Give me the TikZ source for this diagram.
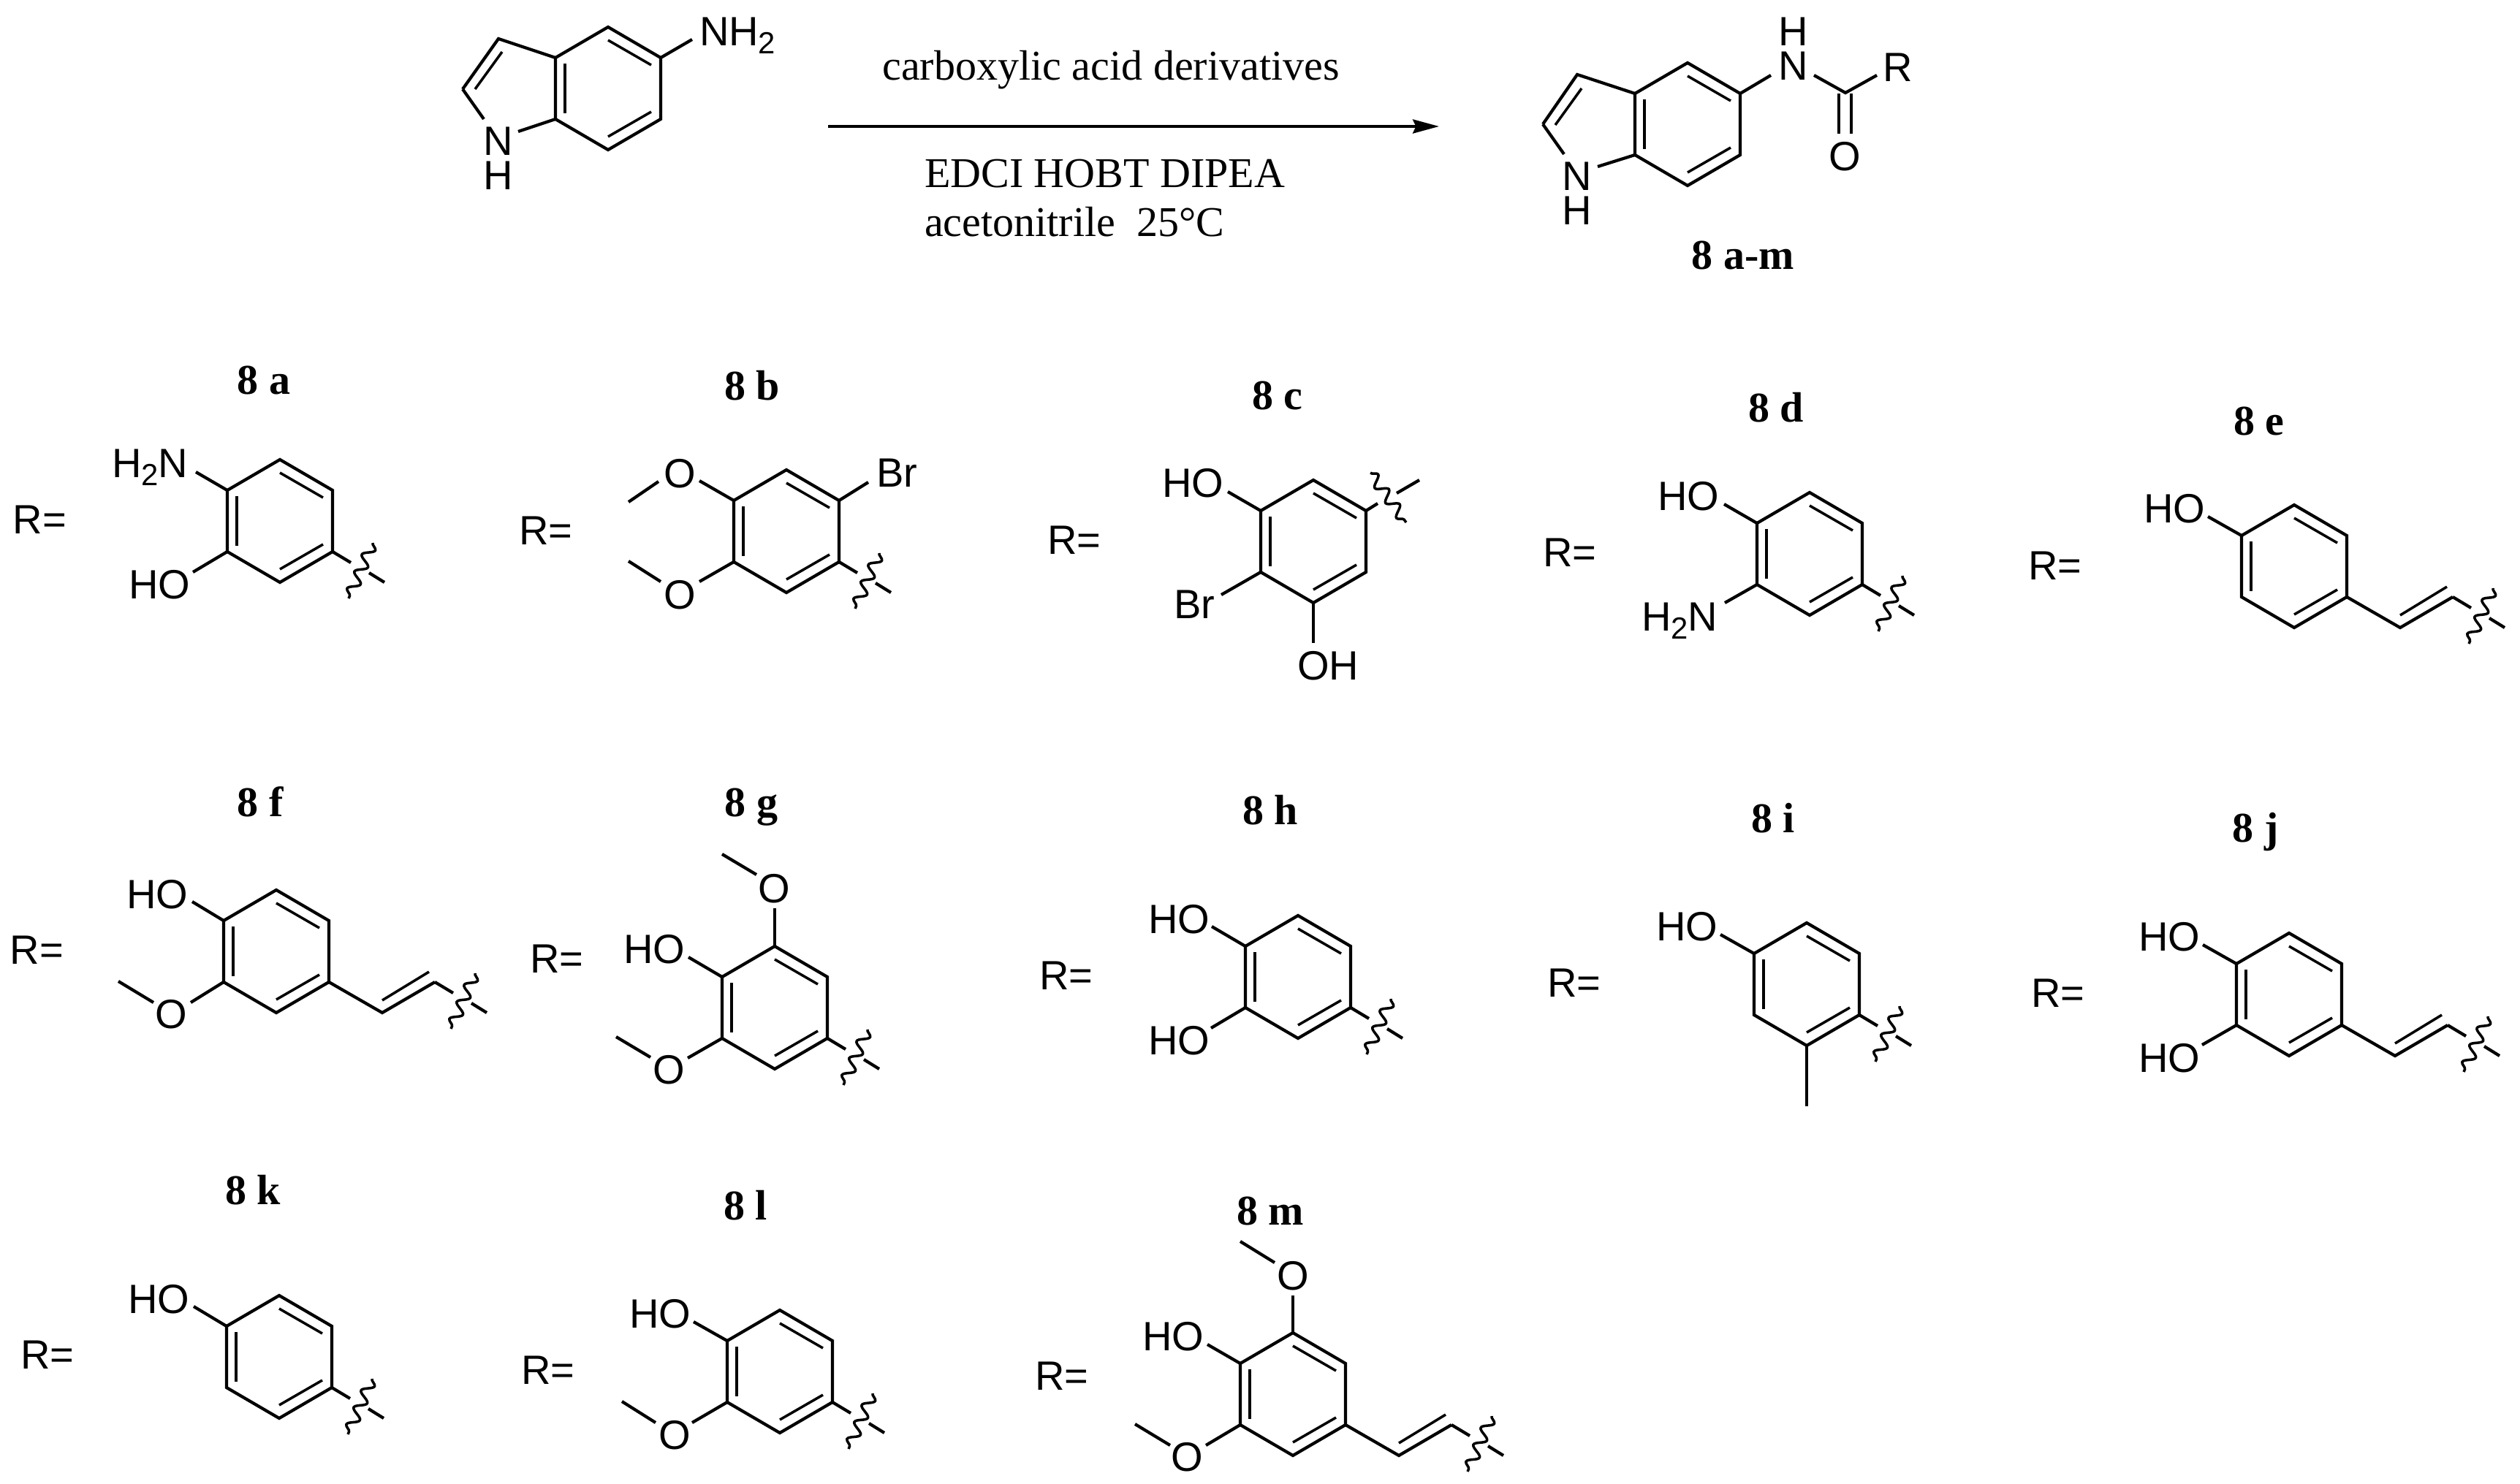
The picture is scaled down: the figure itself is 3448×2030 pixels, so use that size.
\documentclass[tikz,border=0pt]{standalone}
\usepackage{fontspec}
\setmainfont{Liberation Serif}
\newfontfamily\chemfont{Liberation Sans}
\usetikzlibrary{arrows.meta,decorations.pathmorphing}
\tikzset{
  bond/.style={line width=1.2pt,line cap=butt,line join=miter,black},
  innerbond/.style={line width=1pt,line cap=butt,black},
  wavy/.style={line width=1pt,black,decorate,decoration={snake,segment length=7.2pt,amplitude=2.1pt,pre length=0pt,post length=0pt}},
  atomlbl/.style={font=\chemfont\fontsize{15.93}{18}\selectfont,inner sep=0pt,outer sep=0pt,text=black},
  cmpd/.style={font=\bfseries\fontsize{16.5}{18}\selectfont,inner sep=0pt,outer sep=0pt,anchor=base,text=black},
  cond/.style={font=\fontsize{16.5}{18}\selectfont,inner sep=0pt,outer sep=0pt,text=black},
  rxnarrow/.style={line width=1.15pt,-{Stealth[length=10.2pt,width=5.4pt,inset=1.2pt]},black}
}
\newcommand{\subtwo}{\raisebox{-3.4pt}{\fontsize{11.9}{12}\selectfont 2}}
% benzene ring: name, centre x, centre y
\newcommand{\ringat}[3]{%
  \coordinate (#1-t) at (#2,#3-84);
  \coordinate (#1-ur) at (#2+72,#3-42);
  \coordinate (#1-lr) at (#2+72,#3+42);
  \coordinate (#1-b) at (#2,#3+84);
  \coordinate (#1-ll) at (#2-72,#3+42);
  \coordinate (#1-ul) at (#2-72,#3-42);
  \draw[bond] (#1-t)--(#1-ur)--(#1-lr)--(#1-b)--(#1-ll)--(#1-ul)--cycle;
  \draw[innerbond] ([shift={(13,8)}]#1-ul)--([shift={(13,-8)}]#1-ll);
  \draw[innerbond] ([shift={(0,18)}]#1-t)--([shift={(-13,10)}]#1-ur);
  \draw[innerbond] ([shift={(0,-18)}]#1-b)--([shift={(-13,-10)}]#1-lr);
}
% bond from a named point to a named free end
\newcommand{\bondto}[3]{\coordinate (#2) at (#3); \draw[bond] (#1)--(#2);}
% wavy attachment at a named point
\newcommand{\wig}[2]{%
  \coordinate (#2-a) at ([shift={(25,15)}]#1);
  \draw[bond] (#1)--(#2-a);
  \coordinate (#2-w1) at ([shift={(55,-12)}]#1);
  \coordinate (#2-w2) at ([shift={(22,64)}]#1);
  \draw[wavy] (#2-w1)--(#2-w2);
  \coordinate (#2-s1) at ([shift={(50,29)}]#1);
  \coordinate (#2-s2) at ([shift={(71,42)}]#1);
  \draw[bond] (#2-s1)--(#2-s2);
}
% vinyl from lower right vertex of ring #1, then wavy
\newcommand{\vinyl}[1]{%
  \coordinate (#1-v1) at ([shift={(73,42)}]#1-lr);
  \coordinate (#1-v2) at ([shift={(145,0)}]#1-lr);
  \draw[bond] (#1-lr)--(#1-v1)--(#1-v2);
  \draw[innerbond] ([shift={(73,25)}]#1-lr)--([shift={(137,-14)}]#1-lr);
  \wig{#1-v2}{#1-vw}
}
% methoxy: from, name, bond end, O x, O centre y, end2, end3
\newcommand{\ome}[7]{%
  \bondto{#1}{#2-o1}{#3}
  \node[atomlbl,anchor=base] (#2) at (#4,#5+20) {O};
  \coordinate (#2-m1) at (#6); \coordinate (#2-m2) at (#7);
  \draw[bond] (#2-m1)--(#2-m2);
}
\newcommand{\rlabel}[3]{\node[atomlbl,anchor=base west] (#1) at (#2,#3) {R=};}
\newcommand{\lbl}[4]{\node[atomlbl,anchor=base west] (#1) at (#2,#3) {#4};}
\begin{document}
\begin{tikzpicture}[x=0.01cm,y=-0.01cm]
\useasboundingbox (0,0) rectangle (3448,2030);
\fill[white] (0,0) rectangle (3448,2030);

%% starting amine
\ringat{s}{832}{121}
\coordinate (s-c3) at (682,53);
\coordinate (s-c2) at (633,122);
\draw[bond] (s-ul)--(s-c3)--(s-c2);
\coordinate (s-i1) at (687,71); \coordinate (s-i2) at (650,122);
\draw[innerbond] (s-i1)--(s-i2);
\bondto{s-c2}{s-e1}{662,163}
\bondto{s-ll}{s-e2}{709,180}
\node[atomlbl,anchor=base] (s-N) at (682,212) {N};
\node[atomlbl,anchor=base] (s-H) at (682,259) {H};
\bondto{s-ur}{s-e3}{947,54}
\lbl{s-nh2}{957}{62}{NH\subtwo}

%% reaction arrow and conditions
\coordinate (arr-a) at (1133,173);
\coordinate (arr-b) at (1969,173);
\draw[rxnarrow] (arr-a)--(arr-b);
\node[cond,anchor=base] (c1) at (1520,110) {carboxylic acid derivatives};
\node[cond,anchor=base west] (c2) at (1265,256) {EDCI HOBT DIPEA};
\node[cond,anchor=base west] (c3) at (1265,323) {acetonitrile\ \ 25°C};

%% product
\ringat{p}{2309}{170}
\coordinate (p-c3) at (2158,102);
\coordinate (p-c2) at (2111,170);
\draw[bond] (p-ul)--(p-c3)--(p-c2);
\coordinate (p-i1) at (2164,121); \coordinate (p-i2) at (2128,171);
\draw[innerbond] (p-i1)--(p-i2);
\bondto{p-c2}{p-e1}{2140,211}
\bondto{p-ll}{p-e2}{2186,228}
\node[atomlbl,anchor=base] (p-N) at (2158,260) {N};
\node[atomlbl,anchor=base] (p-H) at (2158,307) {H};
\bondto{p-ur}{p-e3}{2423,103}
\node[atomlbl,anchor=base] (a-N) at (2454,109) {N};
\node[atomlbl,anchor=base] (a-H) at (2454,62) {H};
\coordinate (a-c) at (2525,127);
\coordinate (a-n) at (2482,103);
\coordinate (a-r) at (2568,103);
\draw[bond] (a-n)--(a-c)--(a-r);
\coordinate (a-o1) at (2516,128); \coordinate (a-o2) at (2516,183);
\coordinate (a-o3) at (2533,128); \coordinate (a-o4) at (2533,183);
\draw[bond] (a-o1)--(a-o2);
\draw[bond] (a-o3)--(a-o4);
\node[atomlbl,anchor=base] (a-O) at (2524,233) {O};
\lbl{a-R}{2576}{111}{R}
\node[cmpd] (l-pm) at (2385,368) {8 a-m};

%% 8a
\node[cmpd] (l-a) at (361,539) {8 a};
\rlabel{R-a}{18}{730}
\ringat{a}{383}{713}
\bondto{a-ul}{a-e1}{268,646}
\lbl{a-nh}{153}{653}{H\subtwo N}
\bondto{a-ll}{a-e2}{264,783}
\lbl{a-oh}{176}{819}{HO}
\wig{a-lr}{a-w}

%% 8b
\node[cmpd] (l-b) at (1029,547) {8 b};
\rlabel{R-b}{710}{745}
\ringat{b}{1076}{727}
\ome{b-ul}{b-o}{957,658}{930}{647}{901,659}{860,687}
\ome{b-ll}{b-p}{957,796}{930}{813}{904,796}{860,768}
\bondto{b-ur}{b-e1}{1188,660}
\lbl{b-br}{1199}{666}{Br}
\wig{b-lr}{b-w}

%% 8c
\node[cmpd] (l-c) at (1748,560) {8 c};
\rlabel{R-c}{1433}{758}
\ringat{c}{1797}{741}
\bondto{c-ul}{c-e1}{1680,673}
\lbl{c-ho}{1590}{680}{HO}
\bondto{c-ll}{c-e2}{1671,814}
\lbl{c-br}{1606}{846}{Br}
\bondto{c-b}{c-e3}{1797,880}
\lbl{c-oh}{1775}{930}{OH}
\bondto{c-ur}{c-e4}{1885,689}
\coordinate (c-w1) at (1875,647); \coordinate (c-w2) at (1924,715);
\draw[wavy] (c-w1)--(c-w2);
\coordinate (c-s1) at (1911,675); \coordinate (c-s2) at (1942,657);
\draw[bond] (c-s1)--(c-s2);

%% 8d
\node[cmpd] (l-d) at (2430,577) {8 d};
\rlabel{R-d}{2111}{775}
\ringat{d}{2476}{758}
\bondto{d-ul}{d-e1}{2359,690}
\lbl{d-ho}{2268}{698}{HO}
\bondto{d-ll}{d-e2}{2360,825}
\lbl{d-nh}{2246}{863}{H\subtwo N}
\wig{d-lr}{d-w}

%% 8e
\node[cmpd] (l-e) at (3091,595) {8 e};
\rlabel{R-e}{2775}{793}
\ringat{e}{3139}{775}
\bondto{e-ul}{e-e1}{3021,707}
\lbl{e-ho}{2933}{715}{HO}
\vinyl{e}

%% 8f
\node[cmpd] (l-f) at (356,1117) {8 f};
\rlabel{R-f}{14}{1319}
\ringat{f}{378}{1302}
\bondto{f-ul}{f-e1}{263,1234}
\lbl{f-ho}{173}{1243}{HO}
\ome{f-ll}{f-o}{261,1372}{234}{1387}{210,1372}{162,1343}
\vinyl{f}

%% 8g
\node[cmpd] (l-g) at (1028,1117) {8 g};
\rlabel{R-g}{725}{1331}
\ringat{g}{1060}{1379}
\bondto{g-ul}{g-e1}{942,1310}
\lbl{g-ho}{853}{1318}{HO}
\ome{g-t}{g-o}{1060,1243}{1059}{1215}{1035,1197}{988,1169}
\ome{g-ll}{g-p}{941,1448}{915}{1463}{890,1447}{843,1419}
\wig{g-lr}{g-w}

%% 8h
\node[cmpd] (l-h) at (1738,1128) {8 h};
\rlabel{R-h}{1422}{1354}
\ringat{h}{1776}{1337}
\bondto{h-ul}{h-e1}{1658,1268}
\lbl{h-ho}{1571}{1277}{HO}
\bondto{h-ll}{h-e2}{1657,1407}
\lbl{h-hp}{1571}{1443}{HO}
\wig{h-lr}{h-w}

%% 8i
\node[cmpd] (l-i) at (2426,1139) {8 i};
\rlabel{R-i}{2117}{1364}
\ringat{i}{2472}{1347}
\bondto{i-ul}{i-e1}{2354,1279}
\lbl{i-ho}{2266}{1287}{HO}
\bondto{i-b}{i-e2}{2472,1514}
\wig{i-lr}{i-w}

%% 8j
\node[cmpd] (l-j) at (3086,1152) {8 j};
\rlabel{R-j}{2779}{1378}
\ringat{j}{3132}{1361}
\bondto{j-ul}{j-e1}{3014,1293}
\lbl{j-ho}{2926}{1301}{HO}
\bondto{j-ll}{j-e2}{3013,1430}
\lbl{j-hp}{2926}{1467}{HO}
\vinyl{j}

%% 8k
\node[cmpd] (l-k) at (346,1648) {8 k};
\rlabel{R-k}{28}{1873}
\ringat{k}{382}{1857}
\bondto{k-ul}{k-e1}{265,1788}
\lbl{k-ho}{175}{1797}{HO}
\wig{k-lr}{k-w}

%% 8l
\node[cmpd] (l-l) at (1020,1669) {8 l};
\rlabel{R-l}{713}{1894}
\ringat{l}{1067}{1877}
\bondto{l-ul}{l-e1}{949,1809}
\lbl{l-ho}{861}{1817}{HO}
\ome{l-ll}{l-o}{947,1947}{923}{1963}{897,1947}{851,1918}
\wig{l-lr}{l-w}

%% 8m
\node[cmpd] (l-m) at (1738,1676) {8 m};
\rlabel{R-m}{1416}{1902}
\ringat{m}{1769}{1908}
\bondto{m-ul}{m-e1}{1652,1840}
\lbl{m-ho}{1563}{1848}{HO}
\ome{m-t}{m-o}{1769,1773}{1769}{1745}{1744,1728}{1697,1699}
\ome{m-ll}{m-p}{1650,1978}{1624}{1993}{1601,1978}{1553,1949}
\vinyl{m}
\end{tikzpicture}
\end{document}
